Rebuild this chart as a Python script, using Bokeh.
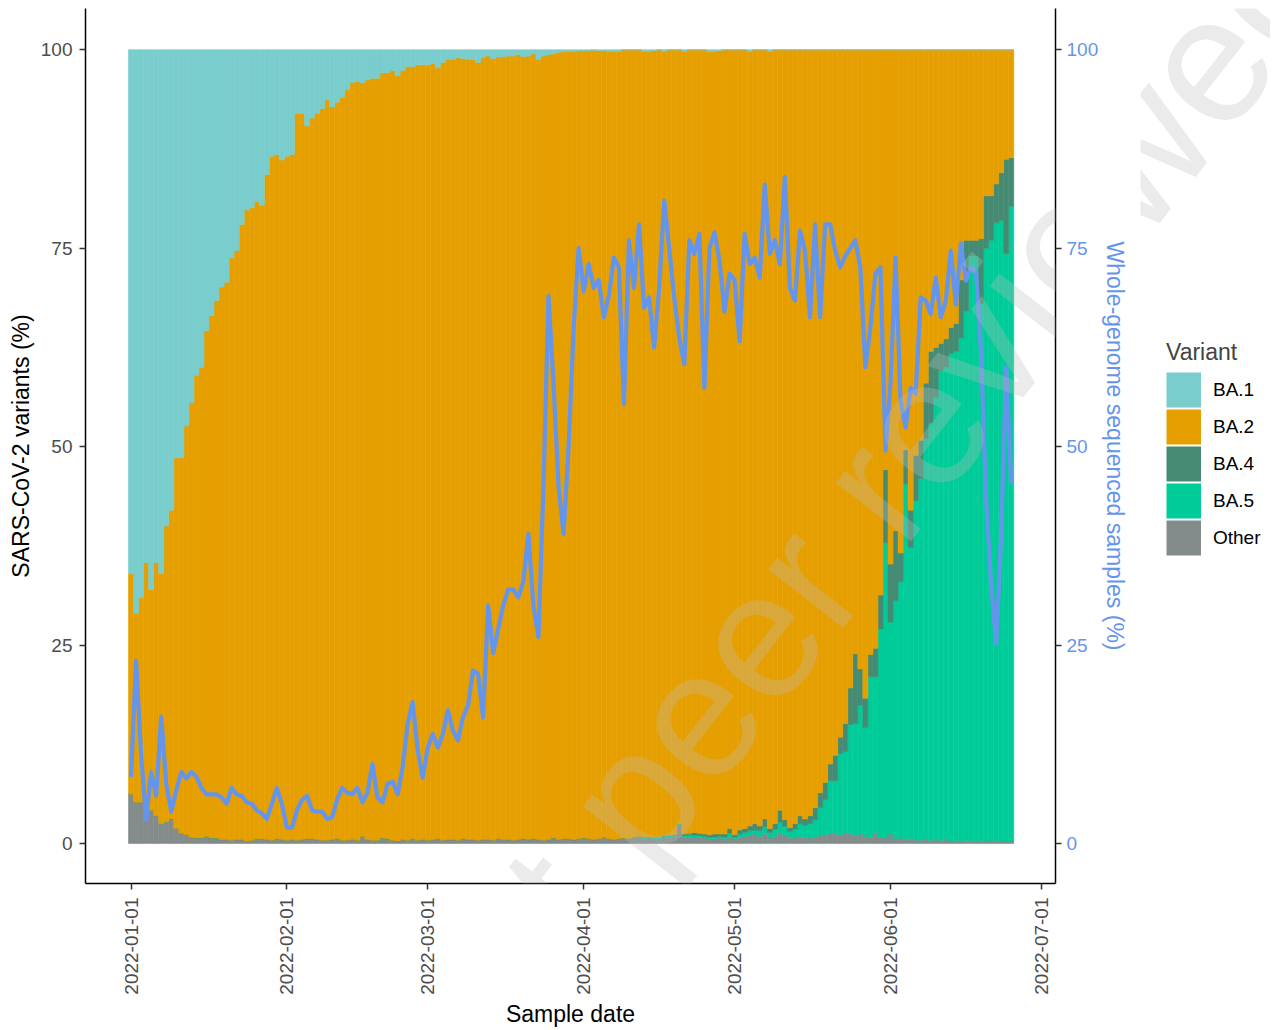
import math
import datetime as dt
from bokeh.plotting import figure
from bokeh.layouts import row
from bokeh.models import (Range1d, LinearAxis, FixedTicker, DatetimeTickFormatter,
                          Legend, LegendItem, Label, ColumnDataSource)
from bokeh.embed import file_html
from bokeh.resources import INLINE

# ---------------- data ----------------
first_day = dt.datetime(2022, 1, 1)
n_days = 176
dates = [first_day + dt.timedelta(days=i) for i in range(n_days)]

ba1 = [66.0, 71.0, 69.0, 64.6, 68.0, 64.6, 66.0, 60.0, 58.0, 51.4,
       51.4, 47.4, 44.5, 41.0, 40.0, 35.4, 33.5, 31.6, 29.9, 29.3,
       26.2, 25.3, 22.0, 20.2, 19.9, 19.1, 19.6, 15.7, 13.4, 13.2,
       13.9, 13.4, 13.2, 8.0, 8.0, 9.6, 8.6, 8.0, 7.4, 6.3,
       7.2, 6.6, 6.0, 5.0, 4.1, 4.0, 4.2, 3.8, 3.6, 3.6,
       2.9, 2.9, 2.6, 3.3, 2.6, 2.1, 2.1, 1.9, 1.9, 1.9,
       1.7, 2.3, 1.6, 1.2, 1.2, 1.0, 1.1, 1.2, 1.2, 1.6,
       1.0, 0.8, 1.1, 0.9, 0.9, 0.8, 0.8, 0.6, 0.9, 0.8,
       0.5, 1.2, 0.8, 0.6, 0.5, 0.3, 0.2, 0.2, 0.2, 0.15,
       0.1, 0.1, 0.05, 0.1, 0.1, 0.2, 0.2, 0.2, 0.0, 0.0,
       0.0, 0.0, 0.2, 0.2, 0.1, 0.0, 0.2, 0.0, 0.0, 0.0,
       0.2, 0.0, 0.0, 0.0, 0.0, 0.2, 0.2, 0.1, 0.0, 0.0,
       0.0, 0.0, 0.0, 0.2, 0.0, 0.0, 0.0, 0.2, 0.0, 0.0] + [0.0] * 46

ba4 = [0.0] * 110 + [0.2, 0.2] + [
       0.4, 0.3, 0.3, 0.3, 0.4, 0.3, 0.4, 0.6, 0.3, 0.5,
       0.5, 0.6, 0.8, 0.6, 1.0, 0.5, 0.7, 1.5, 0.8, 0.5,
       0.7, 1.0, 0.8, 1.0, 1.5] + [
       1.9, 2.2, 2.1, 3.2, 2.1, 3.5, 4.6, 8.8, 4.6, 3.7,
       2.8, 3.6, 4.3, 9.2, 7.3, 8.8, 3.6, 4.3, 4.7, 5.7,
       4.8, 7.0, 9.0, 6.3, 3.4, 3.6, 3.3, 3.5, 7.3, 8.9,
       2.0, 2.0, 8.2, 6.6, 5.6, 4.9, 6.0, 11.9, 6.1]

ba5 = [0.0] * 100 + [
       0.1, 0.1, 0.2, 0.1, 0.2, 0.2, 0.3, 0.2, 0.2, 0.2,
       0.2, 0.3,
       0.3, 0.2, 0.2, 0.2, 0.2, 0.2, 0.2, 0.5, 0.2, 0.4,
       0.5, 0.6, 0.5, 0.7, 0.8, 0.7, 0.9, 1.3, 1.1, 0.7,
       1.1, 1.6, 1.5, 1.8, 2.2,
       3.5, 4.4, 6.7, 6.6, 10.2, 10.2, 13.7, 14.1, 16.2, 13.7,
       20.2, 19.6, 26.2, 37.2, 26.7, 30.0, 32.3, 44.8, 36.7, 42.7,
       45.6, 50.4, 52.6, 55.7, 59.2, 59.5, 61.4, 61.6, 63.4, 66.7,
       73.7, 73.7, 67.6, 74.7, 75.7, 77.8, 78.2, 74.0, 80.0]

other = [6.2, 5.2, 5.2, 4.2, 4.2, 3.5, 2.5, 2.7, 3.1, 1.9, 1.3, 1.1, 0.8, 0.7, 0.7, 0.9, 0.7, 0.7,
         0.5, 0.5, 0.4, 0.5, 0.5, 0.3, 0.4, 0.6, 0.6, 0.5, 0.4, 0.6, 0.5, 0.4, 0.5, 0.4, 0.5, 0.6, 0.6, 0.5, 0.4, 0.4,
         0.5, 0.6, 0.4, 0.4, 0.5, 0.4, 0.9, 0.5, 0.4, 0.4, 0.7, 0.6, 0.4, 0.3, 0.5, 0.4, 0.6, 0.4, 0.5, 0.4,
         0.5, 0.6, 0.4, 0.5, 0.5, 0.4, 0.6, 0.5, 0.5, 0.4, 0.5, 0.5, 0.4, 0.6, 0.5, 0.5, 0.4, 0.5, 0.6, 0.5,
         0.6, 0.5, 0.4, 0.5, 0.7, 0.5, 0.6, 0.6, 0.5, 0.6, 0.7, 0.6, 0.5, 0.6, 0.8, 0.6, 0.5, 0.6, 0.7, 0.6,
         0.7, 0.8, 0.6, 0.7, 0.6, 0.6, 0.7, 0.8, 0.9, 2.3, 0.8, 0.8, 0.7, 0.8, 0.7, 0.6, 0.6, 0.7, 0.6, 0.8,
         0.6, 0.8, 0.9, 1.0, 1.2, 0.9, 1.3, 0.7, 0.9, 1.4, 1.1, 0.8, 0.7, 0.9, 0.8, 0.7, 0.8, 1.0, 1.1, 1.2,
         1.3, 1.1, 1.4, 1.3, 1.0, 1.2, 0.9, 0.8, 1.4, 0.8, 0.7, 1.2, 0.6, 0.7, 0.5, 0.6, 0.5, 0.4, 0.6, 0.4,
         0.5, 0.4, 0.5, 0.3, 0.4, 0.3, 0.4, 0.3, 0.3, 0.4, 0.3, 0.3, 0.4, 0.3, 0.3, 0.3]

# BA.2 closes each day's composition to 100 %
ba2 = [round(100 - a - b - c - d, 2) for a, b, c, d in zip(ba1, ba4, ba5, other)]

sequenced = [8.4, 23.0, 11.3, 3.0, 9.0, 6.0, 16.0, 7.5, 4.0, 6.7,
             9.0, 8.2, 9.0, 8.4, 7.0, 6.2, 6.2, 6.2, 5.8, 5.0,
             7.0, 6.2, 6.0, 5.2, 5.0, 4.2, 3.8, 3.1, 5.0, 7.0,
             5.0, 2.0, 2.0, 4.2, 5.5, 6.0, 4.2, 4.0, 4.0, 3.1,
             3.3, 5.6, 7.0, 6.4, 6.2, 7.0, 5.2, 6.4, 10.0, 5.8,
             5.2, 7.5, 7.8, 6.2, 9.6, 15.1, 17.8, 11.7, 8.3, 12.1,
             13.8, 12.1, 13.8, 16.8, 14.2, 13.0, 15.9, 17.4, 21.8, 21.4,
             15.9, 30.0, 24.0, 27.0, 30.0, 32.0, 32.0, 31.0, 33.0, 39.0,
             30.0, 26.0, 45.0, 69.0, 58.0, 45.0, 39.0, 50.0, 65.0, 75.0,
             69.6, 73.0, 70.0, 71.0, 66.3, 69.0, 73.8, 72.6, 55.4, 76.0,
             70.0, 78.0, 67.5, 68.8, 62.5, 70.0, 81.0, 75.0, 68.8, 63.7,
             60.4, 76.0, 74.3, 76.8, 57.4, 75.0, 77.0, 73.4, 67.0, 71.8,
             71.0, 63.3, 76.8, 73.0, 73.8, 71.3, 83.0, 74.3, 76.0, 73.0,
             84.0, 70.0, 68.4, 77.2, 74.7, 66.3, 78.0, 66.3, 78.0, 78.0,
             74.7, 72.6, 74.0, 75.0, 76.0, 72.6, 60.0, 65.0, 71.8, 72.6,
             49.5, 58.0, 73.8, 55.8, 52.4, 57.4, 56.7, 68.8, 68.4, 66.7,
             71.3, 66.3, 68.4, 74.7, 67.9, 75.6, 70.9, 72.6, 72.0, 62.0,
             43.2, 32.7, 25.2, 39.0, 60.0, 45.3]

variants = ["BA.1", "BA.2", "BA.4", "BA.5", "Other"]
variant_colors = ["#79CDCD", "#E69F00", "#458B74", "#00CC99", "#838B8B"]
y_ticks = [0, 25, 50, 75, 100]
x_tick_dates = ["2022-01-01", "2022-02-01", "2022-03-01", "2022-04-01",
                "2022-05-01", "2022-06-01", "2022-07-01"]

# ---------------- main figure ----------------
FONT = "Liberation Sans"
DAY_MS = 86400000
epoch = dt.datetime(1970, 1, 1)
x_tick_ms = [(dt.datetime.strptime(s, "%Y-%m-%d") - epoch).total_seconds() * 1000 for s in x_tick_dates]

p = figure(frame_width=970, frame_height=875, output_backend="svg", toolbar_location=None,
           x_axis_type="datetime",
           x_range=Range1d(first_day - dt.timedelta(days=9.05), first_day + dt.timedelta(days=183.8)),
           y_range=Range1d(-5.04, 105.2),
           min_border_left=85, min_border_right=85, min_border_top=8, min_border_bottom=140)
p.xgrid.visible = False
p.ygrid.visible = False
p.outline_line_color = None
p.background_fill_color = "white"

src = ColumnDataSource(dict(date=dates, **{"BA.1": ba1, "BA.2": ba2, "BA.4": ba4, "BA.5": ba5, "Other": other}))
stack_order = ["Other", "BA.5", "BA.4", "BA.2", "BA.1"]
stack_colors = [variant_colors[variants.index(v)] for v in stack_order]
p.vbar_stack(stack_order, x="date", width=DAY_MS, source=src,
             fill_color=stack_colors, line_color=stack_colors, line_width=0.6)

p.line(x=dates, y=sequenced, line_color="#6495ED", line_width=4.2, line_join="round")

ax = p.xaxis[0]
ax.ticker = FixedTicker(ticks=x_tick_ms)
fmt = "%Y-%m-%d"
ax.formatter = DatetimeTickFormatter(milliseconds=fmt, seconds=fmt, minsec=fmt, minutes=fmt,
                                     hourmin=fmt, hours=fmt, days=fmt, months=fmt, years=fmt)
ax.major_label_orientation = math.pi / 2
ax.axis_label = "Sample date"

ay = p.yaxis[0]
ay.ticker = FixedTicker(ticks=y_ticks)
ay.axis_label = "SARS-CoV-2 variants (%)"

ry = LinearAxis(ticker=FixedTicker(ticks=y_ticks), axis_label="Whole-genome sequenced samples (%)")
p.add_layout(ry, "right")

for a in [ax, ay, ry]:
    a.axis_line_color = "black"
    a.axis_line_width = 1.5
    a.major_tick_line_color = "#333333"
    a.major_tick_line_width = 1.5
    a.major_tick_in = 0
    a.major_tick_out = 6
    a.minor_tick_line_color = None
    a.major_label_text_font = FONT
    a.major_label_text_font_size = "19px"
    a.major_label_text_color = "#4D4D4D"
    a.axis_label_text_font = FONT
    a.axis_label_text_font_size = "23px"
    a.axis_label_text_font_style = "normal"
    a.axis_label_text_color = "black"

ax.major_label_standoff = 8
ax.axis_label_standoff = 3
ay.major_label_standoff = 7
ay.axis_label_standoff = 4
ry.major_label_standoff = 5
ry.axis_label_standoff = 1
ry.major_label_text_color = "#6495ED"
ry.axis_label_text_color = "#6495ED"

WM_TEXT = "not peer reviewed"
wm_style = dict(x_units="screen", y_units="screen", text=WM_TEXT, angle=52, angle_units="deg",
                text_font=FONT, text_font_size="180px", text_color="#BEBEBE", text_alpha=0.3,
                text_align="left", text_baseline="alphabetic")
p.add_layout(Label(x=331, y=-189, **wm_style))

# ---------------- legend panel (frame aligned with the main frame) ----------------
LEG_W = 130
lf = figure(width=LEG_W, height=1029, output_backend="svg", toolbar_location=None,
            x_axis_location=None, y_axis_location=None, x_range=Range1d(0, 1), y_range=Range1d(0, 1),
            min_border=0)
lf.xgrid.visible = False
lf.ygrid.visible = False
lf.outline_line_color = None

nan = float("nan")
items = []
for v, c in zip(variants, variant_colors):
    r = lf.line(x=[nan, nan], y=[nan, nan], line_color=c, line_width=35, line_cap="butt")
    items.append(LegendItem(label=v, renderers=[r]))
legend = Legend(items=items, title="Variant", location=(26, 327),
                glyph_width=35, glyph_height=37, spacing=0, label_standoff=12,
                padding=0, margin=0, border_line_color=None, background_fill_alpha=0,
                label_text_font=FONT, label_text_font_size="19px", label_text_color="black",
                title_text_font=FONT, title_text_font_size="23px", title_text_font_style="normal",
                title_standoff=5, label_height=37)
lf.add_layout(legend)
lf.add_layout(Label(x=416 - 1140, y=-189, **wm_style))

open("out.html", "w").write(file_html(row(p, lf), INLINE))
